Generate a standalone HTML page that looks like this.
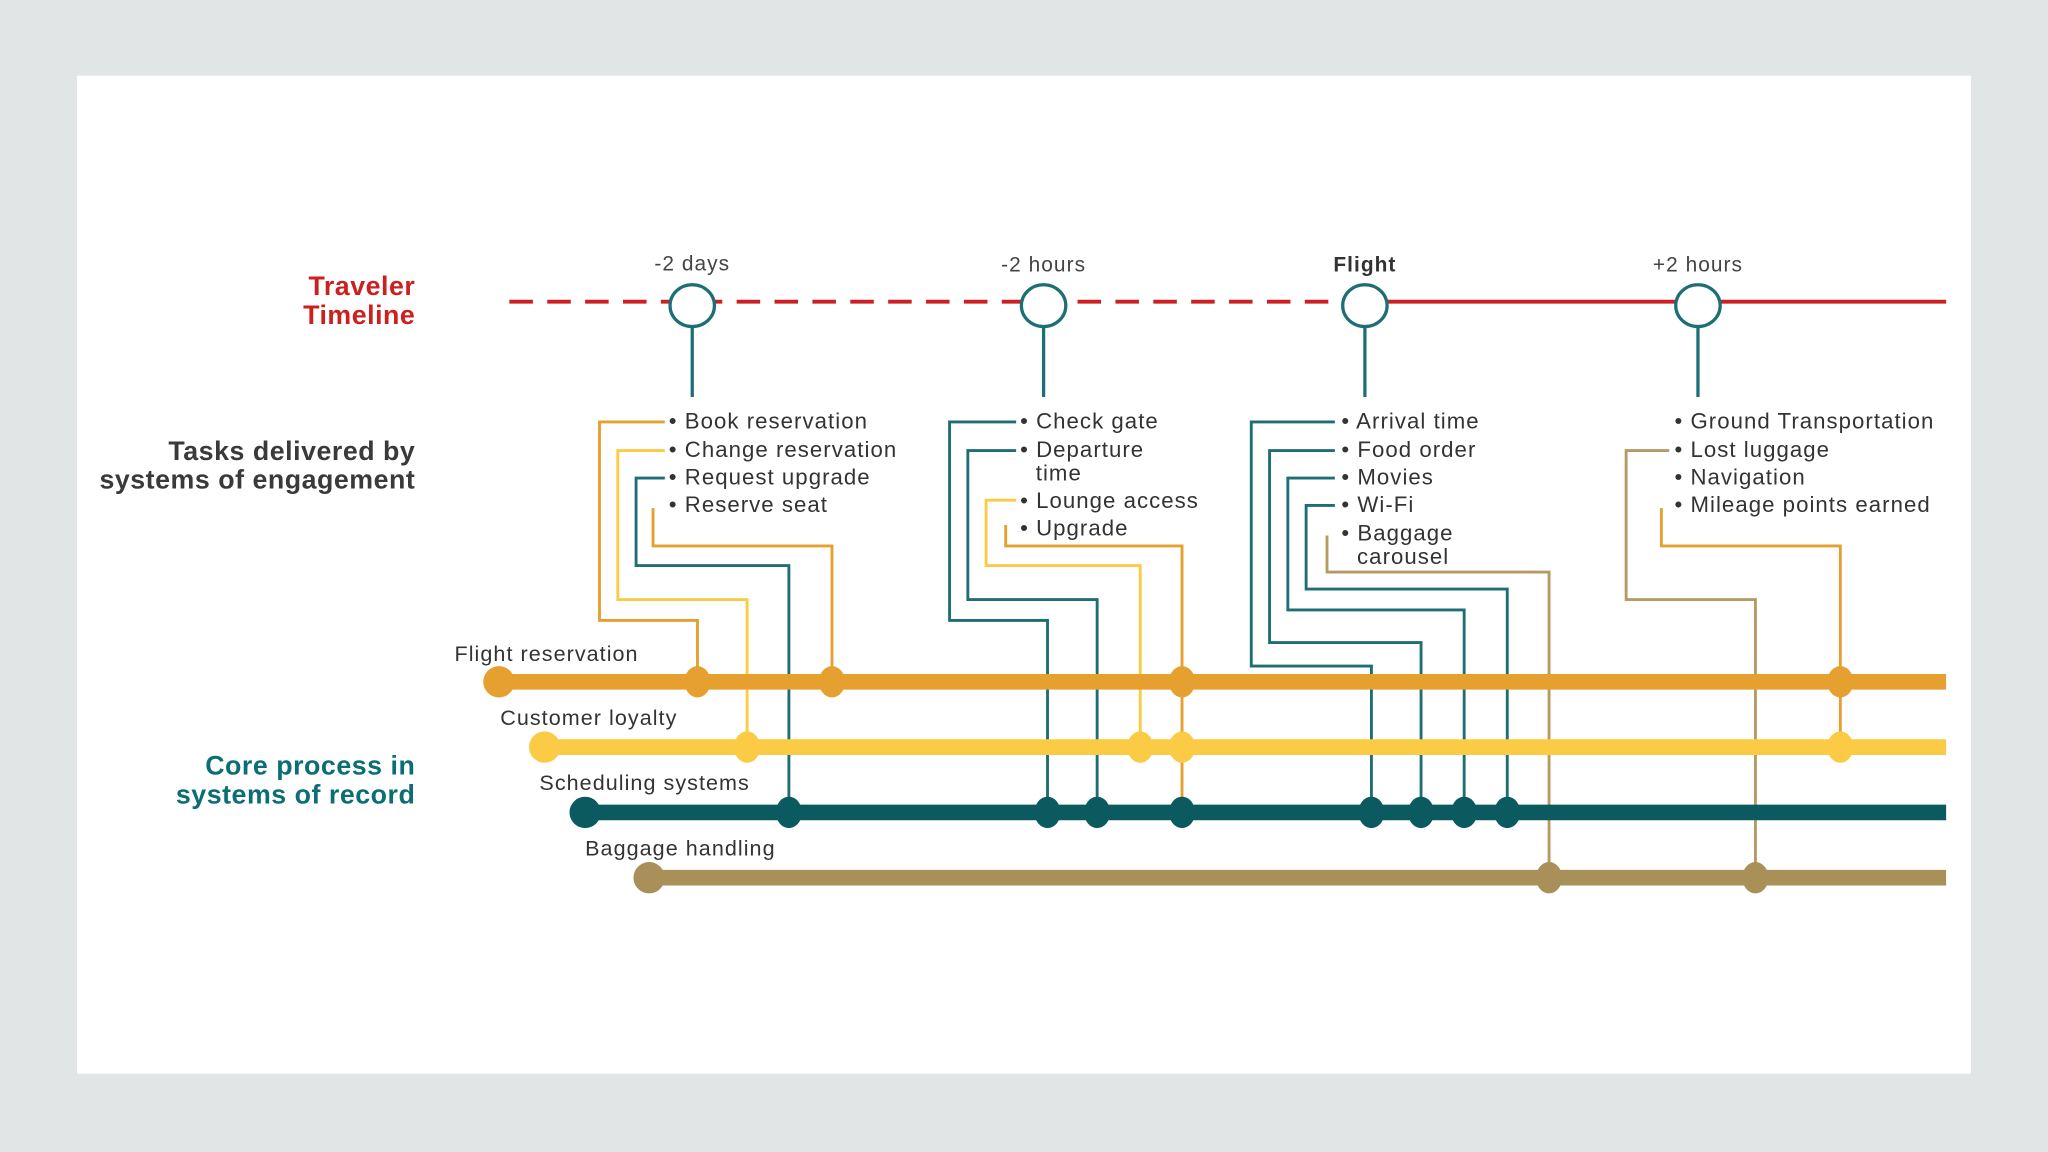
<!DOCTYPE html>
<html><head><meta charset="utf-8"><style>
html,body{margin:0;padding:0;background:#e1e5e6;}
svg{display:block;}
text{font-family:"Liberation Sans",sans-serif;}
</style></head><body>
<svg width="2048" height="1152" viewBox="0 0 1568 882" xmlns="http://www.w3.org/2000/svg">
<rect x="0" y="0" width="1568" height="882" fill="#e1e5e6"/>
<rect x="59" y="58" width="1450" height="764" fill="#ffffff"/>

<!-- left labels -->
<g font-weight="bold" font-size="20.5" text-anchor="end" letter-spacing="0.4">
<text x="318" y="226" fill="#cc1f1f">Traveler</text>
<text x="318" y="248" fill="#cc1f1f">Timeline</text>
<text x="318" y="352" fill="#3a3a3a">Tasks delivered by</text>
<text x="318" y="374" fill="#3a3a3a">systems of engagement</text>
<text x="318" y="593" fill="#0b6e74">Core process in</text>
<text x="318" y="615" fill="#0b6e74">systems of record</text>
</g>

<!-- timeline -->
<line x1="390" y1="231" x2="1045" y2="231" stroke="#cc1f1f" stroke-width="3" stroke-dasharray="18,11"/>
<line x1="1045" y1="231" x2="1490" y2="231" stroke="#cc1f1f" stroke-width="3"/>
<g stroke="#1d6f75" stroke-width="2.5" fill="#fff">
<line x1="530" y1="248" x2="530" y2="304"/><line x1="799" y1="248" x2="799" y2="304"/>
<line x1="1045" y1="248" x2="1045" y2="304"/><line x1="1300" y1="248" x2="1300" y2="304"/>
<ellipse cx="530" cy="234" rx="17" ry="16"/><ellipse cx="799" cy="234" rx="17" ry="16"/>
<ellipse cx="1045" cy="234" rx="17" ry="16"/><ellipse cx="1300" cy="234" rx="17" ry="16"/>
</g>
<g font-size="16" fill="#444" text-anchor="middle" letter-spacing="0.8">
<text x="530" y="207">-2 days</text>
<text x="799" y="208">-2 hours</text>
<text x="1045" y="208" font-weight="bold" fill="#333">Flight</text>
<text x="1300" y="208">+2 hours</text>
</g>

<!-- connectors -->
<g fill="none" stroke-width="2.2">
<polyline stroke="#e6a030" points="509,323 459,323 459,475 534,475 534,522"/>
<polyline stroke="#fccb45" points="509,345 473,345 473,459 572,459 572,572"/>
<polyline stroke="#1d6f75" points="509,366 487,366 487,433 604,433 604,622"/>
<polyline stroke="#e6a030" points="500,389 500,418 637,418 637,522"/>
<polyline stroke="#1d6f75" points="778,323 727,323 727,475 802,475 802,622"/>
<polyline stroke="#1d6f75" points="778,345 741,345 741,459 840,459 840,622"/>
<polyline stroke="#fccb45" points="778,383 755,383 755,433 873,433 873,572"/>
<polyline stroke="#e6a030" points="770,402 770,418 905,418 905,622"/>
<polyline stroke="#1d6f75" points="1022,323 958,323 958,510 1050,510 1050,622"/>
<polyline stroke="#1d6f75" points="1022,345 972,345 972,492 1088,492 1088,622"/>
<polyline stroke="#1d6f75" points="1022,366 986,366 986,467 1121,467 1121,622"/>
<polyline stroke="#1d6f75" points="1022,387 1000,387 1000,451 1154,451 1154,622"/>
<polyline stroke="#b59a62" points="1016,410 1016,438 1186,438 1186,672"/>
<polyline stroke="#b59a62" points="1278,345 1245,345 1245,459 1344,459 1344,672"/>
<polyline stroke="#e6a030" points="1272,389 1272,418 1409,418 1409,572"/>
</g>

<!-- task text -->
<g font-size="17" fill="#333" letter-spacing="0.8">
<text x="512" y="328">• Book reservation</text>
<text x="512" y="350">• Change reservation</text>
<text x="512" y="371">• Request upgrade</text>
<text x="512" y="392">• Reserve seat</text>
<text x="781" y="328">• Check gate</text>
<text x="781" y="350">• Departure</text>
<text x="793" y="368">time</text>
<text x="781" y="389">• Lounge access</text>
<text x="781" y="410">• Upgrade</text>
<text x="1027" y="328">• Arrival time</text>
<text x="1027" y="350">• Food order</text>
<text x="1027" y="371">• Movies</text>
<text x="1027" y="392">• Wi-Fi</text>
<text x="1027" y="414">• Baggage</text>
<text x="1039" y="432">carousel</text>
<text x="1282" y="328">• Ground Transportation</text>
<text x="1282" y="350">• Lost luggage</text>
<text x="1282" y="371">• Navigation</text>
<text x="1282" y="392">• Mileage points earned</text>
</g>

<!-- buses -->
<g stroke-width="12" stroke-linecap="butt">
<line x1="381" y1="522" x2="1490" y2="522" stroke="#e6a030"/>
<line x1="416" y1="572" x2="1490" y2="572" stroke="#fccb45"/>
<line x1="447" y1="622" x2="1490" y2="622" stroke="#0b5a60"/>
<line x1="496" y1="672" x2="1490" y2="672" stroke="#a89058"/>
</g>
<g fill="#e6a030">
<circle cx="382" cy="522" r="12"/>
<ellipse cx="534" cy="522" rx="10" ry="12"/><ellipse cx="637" cy="522" rx="10" ry="12"/>
<ellipse cx="905" cy="522" rx="10" ry="12"/><ellipse cx="1409" cy="522" rx="10" ry="12"/>
</g>
<g fill="#fccb45">
<circle cx="417" cy="572" r="12"/>
<ellipse cx="572" cy="572" rx="10" ry="12"/><ellipse cx="873" cy="572" rx="10" ry="12"/>
<ellipse cx="905" cy="572" rx="10" ry="12"/><ellipse cx="1409" cy="572" rx="10" ry="12"/>
</g>
<g fill="#0b5a60">
<circle cx="448" cy="622" r="12"/>
<ellipse cx="604" cy="622" rx="10" ry="12"/><ellipse cx="802" cy="622" rx="10" ry="12"/>
<ellipse cx="840" cy="622" rx="10" ry="12"/><ellipse cx="905" cy="622" rx="10" ry="12"/>
<ellipse cx="1050" cy="622" rx="10" ry="12"/><ellipse cx="1088" cy="622" rx="10" ry="12"/>
<ellipse cx="1121" cy="622" rx="10" ry="12"/><ellipse cx="1154" cy="622" rx="10" ry="12"/>
</g>
<g fill="#a89058">
<circle cx="497" cy="672" r="12"/>
<ellipse cx="1186" cy="672" rx="10" ry="12"/><ellipse cx="1344" cy="672" rx="10" ry="12"/>
</g>
<g font-size="16.5" fill="#333" letter-spacing="0.8">
<text x="348" y="506">Flight reservation</text>
<text x="383" y="555">Customer loyalty</text>
<text x="413" y="605">Scheduling systems</text>
<text x="448" y="655">Baggage handling</text>
</g>
</svg>
</body></html>
